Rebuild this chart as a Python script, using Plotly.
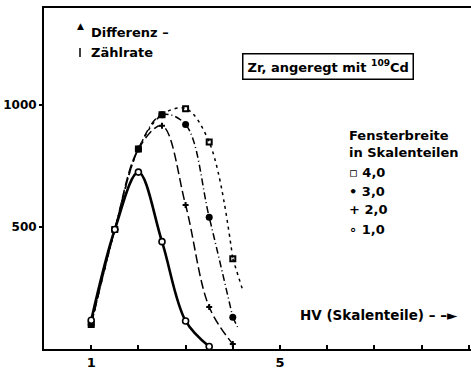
import plotly.graph_objects as go

# HV setting in scale divisions
hv = [1, 1.5, 2, 2.5, 3, 3.5, 4]
hv_w1 = [1, 1.5, 2, 2.5, 3, 3.5]

# differential count rate for each window width (scale divisions)
rate_w4 = [100, 490, 820, 960, 985, 848, 370]
rate_w3 = [100, 490, 820, 960, 920, 540, 130]
rate_w2 = [100, 490, 820, 915, 590, 172, 20]
rate_w1 = [118, 490, 725, 440, 115, 10]

# curve continuations beyond the last measured point
tail_hv_w4 = [4, 4.22]
tail_rate_w4 = [370, 235]
tail_hv_w3 = [4, 4.1]
tail_rate_w3 = [130, 90]

x_ticks = [1, 5]
x_ticklabels = ["1", "5"]
y_ticks = [500, 1000]
y_ticklabels = ["500", "1000"]

FONT = "DejaVu Sans"
W, H = 471, 370
L, R, T, B = 44, 0, 8, 21
PW, PH = W - L - R, H - T - B


def px(x):
    return (x - L) / PW


def py(y):
    return (H - B - y) / PH


fig = go.Figure()

fig.add_trace(go.Scatter(x=tail_hv_w4, y=tail_rate_w4, mode="lines",
                         line=dict(color="black", width=1.5, dash="3px,4px"),
                         showlegend=False, hoverinfo="skip"))
fig.add_trace(go.Scatter(x=tail_hv_w3, y=tail_rate_w3, mode="lines",
                         line=dict(color="black", width=1.5, dash="7px,3px,1px,3px"),
                         showlegend=False, hoverinfo="skip"))

fig.add_trace(go.Scatter(
    x=hv, y=rate_w4, mode="lines+markers", line_shape="spline",
    line=dict(color="black", width=1.5, dash="3px,4px"),
    marker=dict(symbol="square-open", size=5, color="black", line=dict(width=2)),
    showlegend=False))
fig.add_trace(go.Scatter(
    x=hv, y=rate_w3, mode="lines+markers", line_shape="spline",
    line=dict(color="black", width=1.5, dash="7px,3px,1px,3px"),
    marker=dict(symbol="circle", size=7, color="black"),
    showlegend=False))
fig.add_trace(go.Scatter(
    x=hv, y=rate_w2, mode="lines+markers", line_shape="spline",
    line=dict(color="black", width=1.5, dash="9px,4px"),
    marker=dict(symbol="cross", size=5, color="black"),
    showlegend=False))
fig.add_trace(go.Scatter(
    x=hv_w1, y=rate_w1, mode="lines+markers", line_shape="spline",
    line=dict(color="black", width=2.6),
    marker=dict(symbol="circle", size=6, color="white", line=dict(color="black", width=1.6)),
    showlegend=False))

ann = []


def text(x, y, s, size=13, anchor="left"):
    ann.append(dict(x=px(x), y=py(y), xref="paper", yref="paper", text=s,
                    showarrow=False, xanchor=anchor, yanchor="middle",
                    font=dict(family=FONT, size=size, color="black", weight="bold")))


text(80, 26, "▲", size=9, anchor="center")
text(89, 32, "Differenz –")
text(89, 52, "Zählrate")

ann.append(dict(x=px(328), y=py(67), xref="paper", yref="paper",
                text="Zr, angeregt mit <sup>109</sup>Cd", showarrow=False,
                xanchor="center", yanchor="middle", bordercolor="black",
                borderwidth=1.5, borderpad=4,
                font=dict(family=FONT, size=13, color="black", weight="bold")))

text(347, 135, "Fensterbreite")
text(347, 153, "in Skalenteilen")
text(347, 172, "▫ 4,0")
text(347, 191, "• 3,0")
text(347, 210, "+ 2,0")
text(347, 229, "∘ 1,0")

text(298, 315, "HV (Skalenteile) – –►", size=13.5)

fig.update_layout(
    width=W, height=H,
    margin=dict(l=L, r=R, t=T, b=B),
    plot_bgcolor="white", paper_bgcolor="white",
    annotations=ann,
    shapes=[dict(type="line", xref="paper", yref="paper",
                 x0=px(80), x1=px(80), y0=py(48), y1=py(57),
                 line=dict(color="black", width=1.5))],
    xaxis=dict(range=[0, PW / 47.2], showgrid=False, zeroline=False,
               showline=True, linecolor="black", linewidth=2, mirror=True,
               tickvals=x_ticks, ticktext=x_ticklabels, ticks="inside",
               ticklen=4, tickcolor="black", tickwidth=1.5,
               minor=dict(tick0=0, dtick=1, ticks="inside", ticklen=4,
                          tickcolor="black", tickwidth=1.5, showgrid=False),
               tickfont=dict(family=FONT, size=13, color="black", weight="bold"),
               fixedrange=True),
    yaxis=dict(range=[0, PH / 0.244], showgrid=False, zeroline=False,
               showline=True, linecolor="black", linewidth=2,
               tickvals=y_ticks, ticktext=y_ticklabels, ticks="outside",
               ticklen=3, tickcolor="black", tickwidth=1.5,
               tickfont=dict(family=FONT, size=12, color="black", weight="bold"),
               fixedrange=True),
)

fig.write_html("out.html")
